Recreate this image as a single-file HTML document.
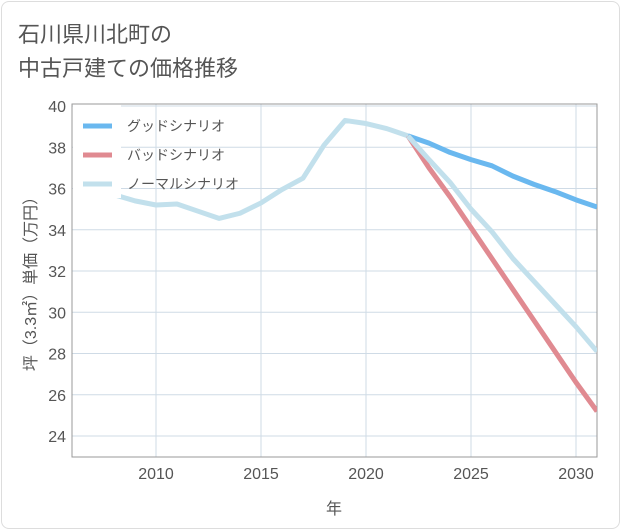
<!DOCTYPE html>
<html><head><meta charset="utf-8"><style>
body{margin:0;background:#fff;}
#wrap{position:relative;width:621px;height:530px;font-family:"Liberation Sans","Noto Sans CJK JP",sans-serif;}
#frame{position:absolute;left:1px;top:1px;width:617px;height:526px;border:1px solid #ddd;border-radius:8px;}
#title{position:absolute;left:18px;top:18px;font-size:22px;line-height:34px;color:#555;}
</style></head><body>
<div id="wrap">
<div id="frame"></div>
<div id="title">石川県川北町の<br>中古戸建ての価格推移</div>
<svg id="chart" width="621" height="530" style="position:absolute;left:0;top:0"></svg>
</div>
<script>
const years=[2007,2008,2009,2010,2011,2012,2013,2014,2015,2016,2017,2018,2019,2020,2021,2022];
const hist=[36.0,35.7,35.4,35.2,35.25,34.9,34.55,34.8,35.3,35.95,36.5,38.1,39.3,39.15,38.9,38.55];
const futYears=[2022,2023,2024,2025,2026,2027,2028,2029,2030,2031];
const good=[38.55,38.2,37.75,37.4,37.1,36.6,36.2,35.85,35.45,35.1];
const bad=[38.55,37.0,35.6,34.1,32.6,31.1,29.6,28.1,26.6,25.2];
const normal=[38.55,37.4,36.3,35.0,33.9,32.6,31.5,30.4,29.3,28.1];
const xTicks=[2010,2015,2020,2025,2030];
const yTicks=[24,26,28,30,32,34,36,38,40];
const legendLabels=["グッドシナリオ","バッドシナリオ","ノーマルシナリオ"];
const L=72,R=597,T=104,B=457;
const x=v=>L+(v-2006)*21;
const y=v=>106+(40-v)*20.625;
const svg=document.getElementById('chart');
const NS='http://www.w3.org/2000/svg';
function mk(t,a,p){const e=document.createElementNS(NS,t);for(const k in a)e.setAttribute(k,a[k]);(p||svg).appendChild(e);return e;}
const grid=mk('g',{});


for(const t of xTicks){const l=mk('line',{x1:x(t),x2:x(t),y1:T,y2:B,stroke:'#cfdbe6','stroke-width':1},grid);


const tx=mk('text',{x:x(t),y:479,'text-anchor':'middle','font-size':16,fill:'#555'});tx.textContent=t;

}
for(const t of yTicks){const l=mk('line',{x1:L,x2:R,y1:y(t),y2:y(t),stroke:'#cfdbe6','stroke-width':1},grid);


const tx=mk('text',{x:66,y:y(t)+6,'text-anchor':'end','font-size':16,fill:'#555'});tx.textContent=t;

}
const ax=mk('rect',{x:L,y:T,width:R-L,height:B-T,fill:'none',stroke:'#999','stroke-width':1});


const cp=mk('clipPath',{id:'cp'});mk('rect',{x:L,y:T,width:R-L,height:B-T},cp);
function line(xs,vs,col,name){const p=mk('polyline',{points:xs.map((v,i)=>x(v)+','+y(vs[i])).join(' '),fill:'none',stroke:col,'stroke-width':5,'stroke-linejoin':'round','clip-path':'url(#cp)'});

}
line(years,hist,'#c2e0ec','history-line');
line(futYears,good,'#6ab8ef','good-scenario-line');
line(futYears,bad,'#e08a91','bad-scenario-line');
line(futYears,normal,'#c2e0ec','normal-scenario-line');
const lg=mk('g',{});


mk('rect',{x:73,y:105,width:48,height:93,fill:'#fff'},lg);
mk('rect',{x:121,y:105,width:150,height:93,fill:'#fff','fill-opacity':0.0},lg);
const cols=['#6ab8ef','#e08a91','#c2e0ec'];
legendLabels.forEach((s,i)=>{const yy=126+i*29;
const g=mk('g',{},lg);


mk('line',{x1:83,x2:112,y1:yy,y2:yy,stroke:cols[i],'stroke-width':5},g);
const t=mk('text',{x:127,y:yy+5,'font-size':14,fill:'#555'},g);t.textContent=s;});
const xt=mk('text',{x:334,y:514,'text-anchor':'middle','font-size':16,fill:'#555'});xt.textContent='年';


const yt=mk('text',{x:0,y:0,'text-anchor':'middle','font-size':16,fill:'#555',transform:'translate(36,280) rotate(-90)'});yt.textContent='坪（3.3㎡）単価（万円）';


</script>
</body></html>
